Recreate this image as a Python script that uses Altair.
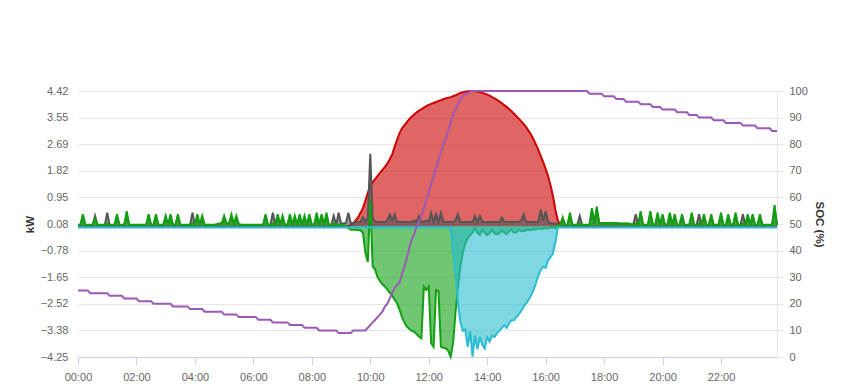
import altair as alt
import pandas as pd

# 5-minute samples, 00:00 .. 23:55 (one row per hour)
pv_kw = [
    0,0,0,0,0,0,0,0,0,0,0,0,
    0,0,0,0,0,0,0,0,0,0,0,0,
    0,0,0,0,0,0,0,0,0,0,0,0,
    0,0,0,0,0,0,0,0,0,0,0,0,
    0,0,0,0,0,0,0,0,0,0,0,0,
    0,0,0,0,0,0,0,0,0,0,0,0,
    0,0,0,0,0,0,0,0,0,0,0,0,
    0,0,0,0,0,0,0,0,0,0,0,0,
    0,0,0,0,0,0,0,0,0,0,0,0,
    0,0,0,0.02,0.05,0.1,0.2,0.3,0.45,0.6,0.85,1.1,
    1.3,1.45,1.55,1.65,1.75,1.85,1.95,2.05,2.2,2.35,2.6,2.82,
    3.05,3.2,3.3,3.4,3.5,3.58,3.65,3.72,3.78,3.82,3.88,3.93,
    3.97,4.0,4.03,4.06,4.1,4.12,4.15,4.18,4.2,4.22,4.25,4.28,
    4.32,4.36,4.38,4.4,4.41,4.42,4.42,4.41,4.4,4.38,4.36,4.33,
    4.3,4.27,4.22,4.18,4.13,4.08,4.02,3.96,3.9,3.83,3.76,3.68,
    3.6,3.52,3.43,3.34,3.24,3.12,3.0,2.85,2.68,2.5,2.3,2.1,
    1.88,1.65,1.35,1.0,0.55,0.2,0.05,0,0,0,0,0,
    0,0,0,0,0,0,0,0,0,0,0,0,
    0,0,0,0,0,0,0,0,0,0,0,0,
    0,0,0,0,0,0,0,0,0,0,0,0,
    0,0,0,0,0,0,0,0,0,0,0,0,
    0,0,0,0,0,0,0,0,0,0,0,0,
    0,0,0,0,0,0,0,0,0,0,0,0,
    0,0,0,0,0,0,0,0,0,0,0,0,
]

load_kw = [
    0.05,0.05,0.3,0.05,0.05,0.05,0.05,0.35,0.05,0.05,0.05,0.05,
    0.45,0.05,0.05,0.05,0.3,0.05,0.05,0.05,0.35,0.05,0.05,0.05,
    0.05,0.05,0.05,0.05,0.05,0.3,0.05,0.05,0.3,0.05,0.05,0.05,
    0.25,0.05,0.3,0.05,0.05,0.3,0.05,0.05,0.05,0.05,0.05,0.45,
    0.05,0.3,0.05,0.25,0.05,0.05,0.05,0.05,0.05,0.07,0.09,0.09,
    0.25,0.09,0.09,0.3,0.09,0.25,0.07,0.05,0.05,0.05,0.05,0.05,
    0.05,0.05,0.05,0.05,0.05,0.3,0.05,0.05,0.45,0.05,0.3,0.05,
    0.25,0.05,0.05,0.3,0.05,0.25,0.05,0.3,0.05,0.25,0.05,0.3,
    0.05,0.05,0.35,0.05,0.3,0.05,0.35,0.05,0.05,0.35,0.05,0.45,
    0.1,0.1,0.12,0.45,0.12,0.12,0.15,0.15,0.15,0.3,0.15,0.3,
    2.37,0.3,0.15,0.15,0.15,0.15,0.15,0.2,0.4,0.2,0.4,0.15,
    0.15,0.15,0.15,0.15,0.15,0.15,0.2,0.15,0.35,0.15,0.15,0.2,
    0.15,0.45,0.15,0.4,0.15,0.45,0.15,0.15,0.15,0.15,0.15,0.2,
    0.4,0.15,0.15,0.15,0.15,0.15,0.15,0.35,0.15,0.35,0.15,0.15,
    0.15,0.15,0.15,0.15,0.15,0.15,0.3,0.15,0.15,0.15,0.15,0.15,
    0.15,0.15,0.2,0.4,0.15,0.15,0.15,0.15,0.15,0.15,0.55,0.2,
    0.5,0.15,0.12,0.1,0.1,0.08,0.05,0.25,0.05,0.05,0.35,0.05,
    0.05,0.05,0.35,0.05,0.05,0.05,0.05,0.5,0.09,0.55,0.1,0.1,
    0.1,0.1,0.1,0.1,0.1,0.1,0.09,0.09,0.09,0.09,0.09,0.07,
    0.07,0.4,0.05,0.4,0.05,0.05,0.05,0.4,0.05,0.05,0.35,0.05,
    0.3,0.05,0.05,0.35,0.05,0.3,0.05,0.05,0.3,0.05,0.05,0.05,
    0.35,0.05,0.05,0.4,0.05,0.3,0.05,0.05,0.3,0.05,0.05,0.05,
    0.35,0.05,0.05,0.3,0.05,0.05,0.35,0.05,0.05,0.4,0.05,0.3,
    0.05,0.3,0.05,0.05,0.3,0.05,0.05,0.05,0.05,0.05,0.55,0.05,
]

battery_kw = [
    0.06,0.06,0.4,0.06,0.06,0.06,0.06,0.25,0.06,0.06,0.06,0.06,
    0.1,0.06,0.06,0.06,0.4,0.06,0.06,0.06,0.5,0.06,0.06,0.06,
    0.06,0.06,0.06,0.06,0.06,0.4,0.06,0.06,0.4,0.06,0.06,0.06,
    0.35,0.06,0.4,0.06,0.06,0.4,0.06,0.06,0.06,0.06,0.06,0.1,
    0.06,0.4,0.06,0.35,0.06,0.06,0.06,0.06,0.06,0.08,0.1,0.1,
    0.35,0.1,0.1,0.4,0.1,0.35,0.08,0.06,0.06,0.06,0.06,0.06,
    0.06,0.06,0.06,0.06,0.06,0.4,0.06,0.06,0.1,0.06,0.4,0.06,
    0.35,0.06,0.06,0.4,0.06,0.35,0.06,0.4,0.06,0.35,0.06,0.4,
    0.06,0.06,0.45,0.06,0.4,0.06,0.45,0.06,0.06,0.1,0.06,0.06,
    0.06,0.05,0.0,-0.05,-0.1,-0.1,-0.1,-0.12,-0.12,-0.2,-0.85,-1.15,
    0.85,-1.3,-1.4,-1.65,-1.78,-1.88,-1.95,-2.05,-2.15,-2.25,-2.38,-2.5,
    -2.7,-2.94,-3.12,-3.26,-3.33,-3.4,-3.43,-3.5,-3.58,-3.64,-1.96,-2.07,
    -1.96,-3.8,-3.92,-2.07,-2.1,-3.92,-3.95,-3.97,-4.05,-4.24,-3.8,-2.8,
    -2.0,-1.3,-0.85,-0.55,-0.38,-0.28,-0.2,-0.06,-0.2,-0.27,-0.1,-0.2,
    -0.27,-0.22,-0.1,-0.22,-0.25,-0.22,-0.12,-0.2,-0.25,-0.15,-0.1,-0.2,
    -0.18,-0.1,-0.15,-0.15,-0.12,-0.1,-0.12,-0.08,-0.1,-0.05,-0.08,-0.06,
    -0.05,-0.05,-0.03,-0.02,-0.05,0.05,0.06,0.3,0.06,0.06,0.45,0.06,
    0.06,0.06,0.1,0.06,0.06,0.06,0.06,0.6,0.1,0.65,0.12,0.12,
    0.12,0.12,0.12,0.12,0.12,0.12,0.1,0.1,0.1,0.1,0.1,0.08,
    0.08,0.1,0.06,0.5,0.06,0.06,0.06,0.5,0.06,0.06,0.45,0.06,
    0.4,0.06,0.06,0.45,0.06,0.4,0.06,0.06,0.4,0.06,0.06,0.06,
    0.45,0.06,0.06,0.1,0.06,0.4,0.06,0.06,0.4,0.06,0.06,0.06,
    0.45,0.06,0.06,0.4,0.06,0.06,0.45,0.06,0.06,0.1,0.06,0.4,
    0.06,0.4,0.06,0.06,0.4,0.06,0.06,0.06,0.06,0.06,0.7,0.06,
]

grid_kw = [
    -0.03,-0.03,-0.03,-0.03,-0.03,-0.03,-0.03,-0.03,-0.03,-0.03,-0.03,-0.03,
    -0.03,-0.03,-0.03,-0.03,-0.03,-0.03,-0.03,-0.03,-0.03,-0.03,-0.03,-0.03,
    -0.03,-0.03,-0.03,-0.03,-0.03,-0.03,-0.03,-0.03,-0.03,-0.03,-0.03,-0.03,
    -0.03,-0.03,-0.03,-0.03,-0.03,-0.03,-0.03,-0.03,-0.03,-0.03,-0.03,-0.03,
    -0.03,-0.03,-0.03,-0.03,-0.03,-0.03,-0.03,-0.03,-0.03,-0.03,-0.03,-0.03,
    -0.03,-0.03,-0.03,-0.03,-0.03,-0.03,-0.03,-0.03,-0.03,-0.03,-0.03,-0.03,
    -0.03,-0.03,-0.03,-0.03,-0.03,-0.03,-0.03,-0.03,-0.03,-0.03,-0.03,-0.03,
    -0.03,-0.03,-0.03,-0.03,-0.03,-0.03,-0.03,-0.03,-0.03,-0.03,-0.03,-0.03,
    -0.03,-0.03,-0.03,-0.03,-0.03,-0.03,-0.03,-0.03,-0.03,-0.03,-0.03,-0.03,
    -0.03,-0.03,-0.03,-0.03,-0.03,-0.03,-0.03,-0.03,-0.03,-0.03,-0.03,-0.03,
    -0.03,-0.03,-0.03,-0.03,-0.03,-0.03,-0.03,-0.03,-0.03,-0.03,-0.03,-0.03,
    -0.03,-0.03,-0.03,-0.03,-0.03,-0.03,-0.03,-0.03,-0.03,-0.03,-0.03,-0.03,
    -0.03,-0.03,-0.03,-0.03,-0.03,-0.03,-0.03,-0.03,-0.03,-0.03,-0.8,-1.5,
    -2.5,-3.1,-3.4,-3.35,-3.92,-3.4,-4.24,-3.55,-4.0,-3.6,-3.85,-3.97,
    -3.6,-3.75,-3.55,-3.6,-3.48,-3.4,-3.3,-3.22,-3.3,-3.15,-3.05,-3.05,
    -2.95,-2.85,-2.75,-2.6,-2.5,-2.39,-2.25,-2.07,-1.85,-1.6,-1.42,-1.3,
    -1.35,-1.1,-1.0,-0.87,-0.5,-0.03,-0.03,-0.03,-0.03,-0.03,-0.03,-0.03,
    -0.03,-0.03,-0.03,-0.03,-0.03,-0.03,-0.03,-0.03,-0.03,-0.03,-0.03,-0.03,
    -0.03,-0.03,-0.03,-0.03,-0.03,-0.03,-0.03,-0.03,-0.03,-0.03,-0.03,-0.03,
    -0.03,-0.03,-0.03,-0.03,-0.03,-0.03,-0.03,-0.03,-0.03,-0.03,-0.03,-0.03,
    -0.03,-0.03,-0.03,-0.03,-0.03,-0.03,-0.03,-0.03,-0.03,-0.03,-0.03,-0.03,
    -0.03,-0.03,-0.03,-0.03,-0.03,-0.03,-0.03,-0.03,-0.03,-0.03,-0.03,-0.03,
    -0.03,-0.03,-0.03,-0.03,-0.03,-0.03,-0.03,-0.03,-0.03,-0.03,-0.03,-0.03,
    -0.03,-0.03,-0.03,-0.03,-0.03,-0.03,-0.03,-0.03,-0.03,-0.03,-0.03,-0.03,
]

soc_pct = [
    25,25,25,25,25,24,24,24,24,24,24,24,
    24,23,23,23,23,23,23,22,22,22,22,22,
    22,21,21,21,21,21,21,20,20,20,20,20,
    20,20,20,19,19,19,19,19,19,19,18,18,
    18,18,18,18,17,17,17,17,17,17,17,17,
    16,16,16,16,16,16,15,15,15,15,15,15,
    15,15,14,14,14,14,14,14,13,13,13,13,
    13,13,13,12,12,12,12,12,12,11,11,11,
    11,11,11,10,10,10,10,10,10,10,10,9,
    9,9,9,9,9,10,10,10,10,10,10,11,
    12,13,14,15,16,17,19,20,22,24,26,27,
    28,31,34,37,41,44,46,49,51,53,56,59,
    62,65,68,71,74,77,80,82,85,88,91,93,
    95,97,98,99,99,100,100,100,100,100,100,100,
    100,100,100,100,100,100,100,100,100,100,100,100,
    100,100,100,100,100,100,100,100,100,100,100,100,
    100,100,100,100,100,100,100,100,100,100,100,100,
    100,100,100,100,100,100,99,99,99,99,99,99,
    98,98,98,98,98,97,97,97,97,96,96,96,
    96,96,96,95,95,95,95,95,94,94,94,94,
    93,93,93,93,93,93,92,92,92,92,92,91,
    91,91,91,90,90,90,90,90,90,89,89,89,
    89,89,88,88,88,88,88,88,88,87,87,87,
    87,87,87,86,86,86,86,86,86,85,85,85,
]

kw_ticks = [-4.25, -3.38, -2.52, -1.65, -0.78, 0.08, 0.95, 1.82, 2.69, 3.55, 4.42]
soc_ticks = [0, 10, 20, 30, 40, 50, 60, 70, 80, 90, 100]
hour_ticks = [0, 120, 240, 360, 480, 600, 720, 840, 960, 1080, 1200, 1320]

minutes = [i * 5 for i in range(len(soc_pct))]

series_styles = [
    ("pv", pv_kw, "#cc0000"),
    ("load", load_kw, "#555555"),
    ("battery", battery_kw, "#12a012"),
    ("grid", grid_kw, "#2bbcd2"),
]

rows = []
for name, vals, _ in series_styles:
    for m, v in zip(minutes, vals):
        rows.append({"minute": m, "series": name, "value": v})
power = pd.DataFrame(rows)
soc_df = pd.DataFrame({"minute": minutes, "soc": soc_pct})

FONT = "Liberation Sans"

X = alt.X(
    "minute:Q",
    scale=alt.Scale(domain=[0, 1435], nice=False, zero=False),
    axis=alt.Axis(
        values=hour_ticks,
        labelExpr="(datum.value < 600 ? '0' : '') + floor(datum.value / 60) + ':00'",
        labelFlush=False,
        labelAlign="center",
        grid=False,
        domainColor="#ccd6eb",
        tickColor="#ccd6eb",
        tickSize=8,
        labelPadding=6,
        labelColor="#666666",
        labelFontSize=11,
        labelFont=FONT,
        title=None,
    ),
)

Y = alt.Y(
    "value:Q",
    scale=alt.Scale(domain=[-4.25, 4.42], nice=False, zero=False),
    axis=alt.Axis(
        values=kw_ticks,
        format=".2f",
        grid=True,
        gridColor="#e6e6e6",
        domain=False,
        ticks=False,
        labelPadding=10,
        labelColor="#666666",
        labelFontSize=11,
        labelFont=FONT,
        title="kW",
        titleFont=FONT,
        titleFontSize=11.5,
        titleFontWeight="bold",
        titleColor="#333333",
        titleAngle=270,
        titleX=-48,
        titleY=133,
        titleAlign="center",
        titleBaseline="middle",
    ),
)

layers = []
for name, _, color in series_styles:
    base = alt.Chart(power).transform_filter(alt.datum.series == name)
    layers.append(
        base.mark_area(color=color, fillOpacity=0.6, strokeWidth=0).encode(x=X, y=Y, y2=alt.datum(0))
    )
    layers.append(base.mark_line(color=color, strokeWidth=2).encode(x=X, y=Y))

left = alt.layer(*layers)

soc_line = alt.Chart(soc_df).mark_line(color="#9b59b6", strokeWidth=2).encode(
    x=X,
    y=alt.Y(
        "soc:Q",
        scale=alt.Scale(domain=[0, 100], nice=False),
        axis=alt.Axis(
            orient="right",
            values=soc_ticks,
            grid=False,
            domain=True,
            domainColor="#e6e6e6",
            tickColor="#e6e6e6",
            tickSize=6,
            labelPadding=6,
            labelColor="#666666",
            labelFontSize=11,
            labelFont=FONT,
            title="SOC (%)",
            titleFont=FONT,
            titleFontSize=11.5,
            titleFontWeight="bold",
            titleColor="#333333",
            titleAngle=90,
            titleX=41,
            titleY=133,
            titleAlign="center",
            titleBaseline="middle",
        ),
    ),
)

chart = (
    alt.layer(left, soc_line)
    .resolve_scale(y="independent")
    .properties(
        width=699,
        height=266,
        autosize=alt.AutoSizeParams(type="none"),
        padding={"left": 78, "top": 91, "right": 72, "bottom": 33},
        background="white",
    )
    .configure_view(stroke=None)
)

chart.save("out.html", embed_options={"renderer": "svg", "actions": False})
